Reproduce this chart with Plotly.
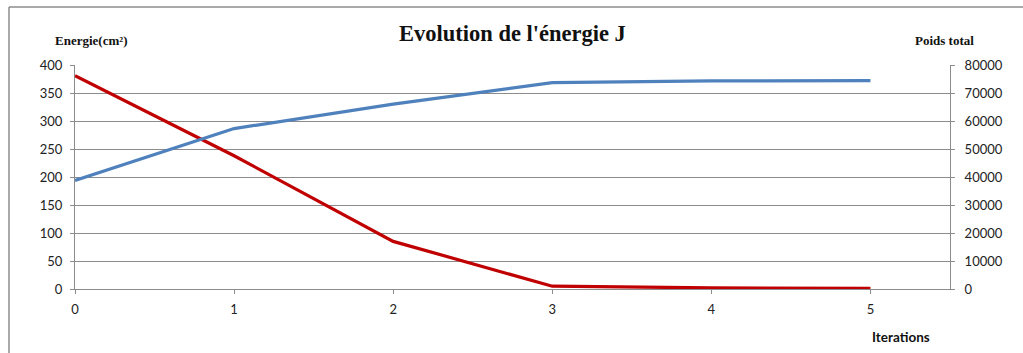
import plotly.graph_objects as go

# Iteration index and the two tracked quantities
iterations = [0, 1, 2, 3, 4, 5]
energie = [381, 238, 85, 5, 2, 1]                       # left axis, cm²
poids_total = [38800, 57300, 66000, 73700, 74300, 74400]  # right axis

W, H = 1023, 353
ML, MR, MT, MB = 75, 73, 65, 64
PW, PH = W - ML - MR, H - MT - MB

def px(x):
    return (x - ML) / PW

def py(y):
    return (H - MB - y) / PH

GRID = "#8c8c8c"
TICKFONT = dict(family="Lato, Open Sans, sans-serif", size=13, color="#222222")

fig = go.Figure()
fig.add_trace(go.Scatter(x=iterations, y=energie, mode="lines", name="Energie",
                         line=dict(color="#C00000", width=3.2), yaxis="y"))
fig.add_trace(go.Scatter(x=iterations, y=poids_total, mode="lines", name="Poids total",
                         line=dict(color="#4F81BD", width=3.2), yaxis="y2"))

fig.update_layout(
    width=W, height=H,
    margin=dict(l=ML, r=MR, t=MT, b=MB),
    paper_bgcolor="white", plot_bgcolor="white",
    showlegend=False,
    xaxis=dict(range=[0, 5.5], tickvals=iterations, ticktext=[str(i) for i in iterations],
               showgrid=False, showline=True, linecolor=GRID, linewidth=1,
               ticks="outside", ticklen=4, tickcolor=GRID, tickfont=TICKFONT,
               ticklabelstandoff=4, zeroline=False),
    yaxis=dict(range=[0, 400], dtick=50, showgrid=True, gridcolor=GRID, gridwidth=1,
               showline=True, linecolor=GRID, linewidth=1, ticks="outside", ticklen=4,
               tickcolor=GRID, tickfont=TICKFONT, ticklabelstandoff=5, zeroline=False),
    yaxis2=dict(range=[0, 80000], dtick=10000, tickformat="d", overlaying="y", side="right",
                showgrid=False, showline=True, linecolor=GRID, linewidth=1,
                ticks="outside", ticklen=4, tickcolor=GRID, tickfont=TICKFONT,
                ticklabelstandoff=7, zeroline=False),
    annotations=[
        dict(text="<b>Evolution de l'énergie J</b>", x=px(512), y=py(34),
             xref="paper", yref="paper", showarrow=False, xanchor="center", yanchor="middle",
             font=dict(family="Liberation Serif, serif", size=22.5, color="#111111")),
        dict(text="<b>Energie(cm²)</b>", x=px(53), y=py(41),
             xref="paper", yref="paper", showarrow=False, xanchor="left", yanchor="middle",
             font=dict(family="Liberation Serif, serif", size=13, color="#111111")),
        dict(text="<b>Poids total</b>", x=px(944), y=py(41),
             xref="paper", yref="paper", showarrow=False, xanchor="center", yanchor="middle",
             font=dict(family="Liberation Serif, serif", size=13, color="#111111")),
        dict(text="<b>Iterations</b>", x=px(901), y=py(337),
             xref="paper", yref="paper", showarrow=False, xanchor="center", yanchor="middle",
             font=dict(family="Lato, Open Sans, sans-serif", size=13.5, color="#111111")),
    ],
    shapes=[
        dict(type="line", xref="paper", yref="paper", x0=px(9), x1=px(1030), y0=py(7), y1=py(7),
             line=dict(color="#8c8c8c", width=1.5)),
        dict(type="line", xref="paper", yref="paper", x0=px(9), x1=px(9), y0=py(7), y1=py(360),
             line=dict(color="#8c8c8c", width=1.5)),
    ],
)

fig.write_html("out.html")
